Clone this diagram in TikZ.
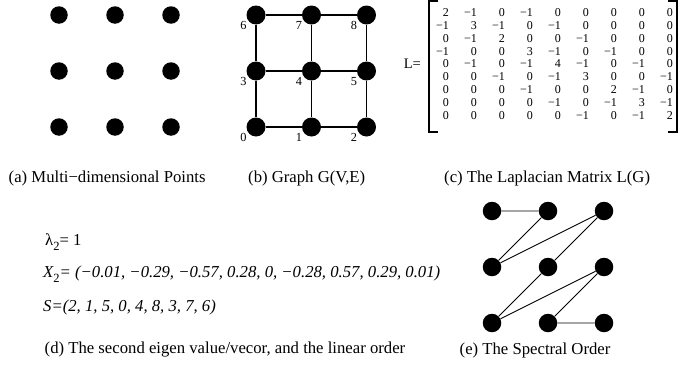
\documentclass[tikz,border=0pt]{standalone}
\usepackage{fontspec}
\setmainfont{Liberation Serif}
\usetikzlibrary{calc}
\begin{document}
\begin{tikzpicture}[x=1pt,y=-1pt,
  dotA/.style={circle,fill=black,minimum size=17.5pt,inner sep=0pt},
  dotB/.style={circle,fill=black,minimum size=19pt,inner sep=0pt},
  dotE/.style={circle,fill=black,minimum size=18.5pt,inner sep=0pt},
  gridedge/.style={line width=1.5pt},
  ordedge/.style={line width=0.9pt},
  num/.style={font=\fontsize{12.3}{14}\selectfont,inner sep=0pt},
  ent/.style={font=\fontsize{12}{12.8}\selectfont,inner sep=0pt,anchor=base east},
  captxt/.style={font=\fontsize{16.7}{20}\selectfont,inner sep=0pt,anchor=west},
  eqtxt/.style={font=\fontsize{16.7}{20}\selectfont\itshape,inner sep=0pt,anchor=west},
  bracket/.style={line width=1.3pt}]
\useasboundingbox (0,0) rectangle (680,388);

% (a) points
\foreach \c/\x in {1/59,2/115,3/171}
  \foreach \r/\y in {1/15,2/71,3/127}
    \node[dotA] (a\r\c) at (\x,\y) {};

% (b) graph
\node[dotB] (b6) at (256,15) {};
\node[dotB] (b7) at (311.5,15) {};
\node[dotB] (b8) at (366.5,15) {};
\node[dotB] (b3) at (256,71) {};
\node[dotB] (b4) at (311.5,71) {};
\node[dotB] (b5) at (366.5,71) {};
\node[dotB] (b0) at (256,127) {};
\node[dotB] (b1) at (311.5,127) {};
\node[dotB] (b2) at (366.5,127) {};
\draw[gridedge] (b6) -- (b7) -- (b8);
\draw[gridedge] (b3) -- (b4) -- (b5);
\draw[gridedge] (b0) -- (b1) -- (b2);
\draw[gridedge] (b6) -- (b3) -- (b0);
\draw[gridedge] (b7) -- (b4) -- (b1);
\draw[gridedge] (b8) -- (b5) -- (b2);
\foreach \n in {0,...,8}
  \node[num] (lb\n) at ($(b\n)+(-12.5,10.5)$) {\n};

% (c) Laplacian matrix
\node[font=\fontsize{14.5}{17}\selectfont,inner sep=0pt,anchor=east] (Leq) at (421,64) {L=};
\coordinate (lbt) at (429,1);
\coordinate (lbb) at (429,132);
\coordinate (rbt) at (677,1);
\coordinate (rbb) at (677,132);
\draw[bracket] ($(lbt)+(9,0)$) -- (lbt) -- (lbb) -- ($(lbb)+(9,0)$);
\draw[bracket] ($(rbt)+(-9,0)$) -- (rbt) -- (rbb) -- ($(rbb)+(-9,0)$);
\foreach \row [count=\i] in {
  {2,−1,0,−1,0,0,0,0,0},
  {−1,3,−1,0,−1,0,0,0,0},
  {0,−1,2,0,0,−1,0,0,0},
  {−1,0,0,3,−1,0,−1,0,0},
  {0,−1,0,−1,4,−1,0,−1,0},
  {0,0,−1,0,−1,3,0,0,−1},
  {0,0,0,−1,0,0,2,−1,0},
  {0,0,0,0,−1,0,−1,3,−1},
  {0,0,0,0,0,−1,0,−1,2}}
  \foreach \e [count=\j] in \row
    \node[ent] (m\i\j) at ({449+28*(\j-1)},{16.6+12.8*(\i-1)}) {\e};

% captions row 1
\node[captxt] (capa) at (8.5,178) {(a) Multi−dimensional Points};
\node[captxt] (capb) at (248,178) {(b) Graph G(V,E)};
\node[captxt] (capc) at (444,178) {(c) The Laplacian Matrix L(G)};

% (d) text
\node[captxt] (lam) at (45,242) {λ\raisebox{-0.6ex}{\fontsize{12.5}{14}\selectfont 2}= 1};
\node[eqtxt] (xv) at (43,274.5) {X\raisebox{-0.6ex}{\fontsize{12.5}{14}\selectfont\upshape 2}= (−0.01, −0.29, −0.57, 0.28, 0, −0.28, 0.57, 0.29, 0.01)};
\node[eqtxt] (sv) at (43,307) {S=(2, 1, 5, 0, 4, 8, 3, 7, 6)};

% (e) spectral order
\node[dotE] (e11) at (492,211) {};
\node[dotE] (e12) at (548,211) {};
\node[dotE] (e13) at (604,211) {};
\node[dotE] (e21) at (492,267) {};
\node[dotE] (e22) at (548,267) {};
\node[dotE] (e23) at (604,267) {};
\node[dotE] (e31) at (492,323) {};
\node[dotE] (e32) at (548,323) {};
\node[dotE] (e33) at (604,323) {};
\draw[ordedge] (e11) -- (e12) -- (e21) -- (e13) -- (e22) -- (e31) -- (e23) -- (e32) -- (e33);

% captions row 2
\node[captxt] (capd) at (44.5,350) {(d) The second eigen value/vecor, and the linear order};
\node[captxt] (cape) at (459.5,350) {(e) The Spectral Order};
\end{tikzpicture}
\end{document}
